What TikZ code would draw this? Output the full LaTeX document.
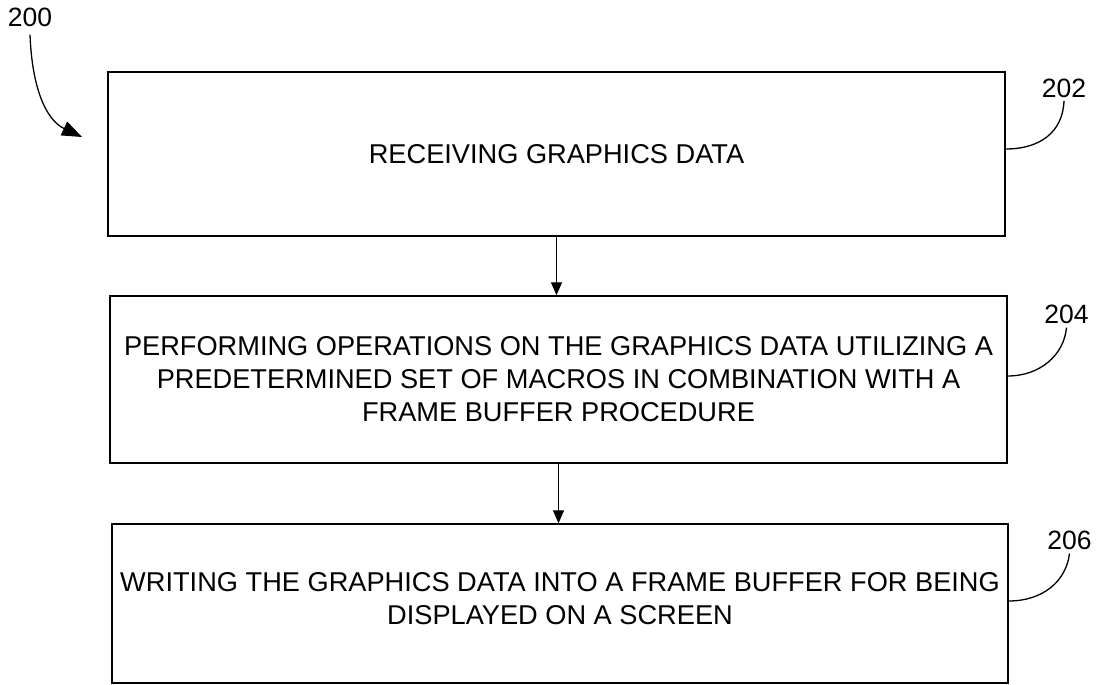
\documentclass[tikz,border=0pt]{standalone}
\usepackage{fontspec}
\setmainfont{Liberation Sans}
\usetikzlibrary{arrows.meta,calc}
\begin{document}
\begin{tikzpicture}[x=1pt,y=-1pt,
  stepbox/.style={draw=black,line width=1.4pt,rectangle,inner sep=0pt,align=center,
    font=\fontsize{27.2}{33}\selectfont},
  reflabel/.style={inner sep=0pt,font=\fontsize{26.5}{30}\selectfont},
  flow/.style={line width=1.2pt,-{Triangle[length=13pt,width=11pt]}},
  lead/.style={line width=1.3pt}]
\useasboundingbox (0,0) rectangle (1096,685);
\node[stepbox,minimum width=897pt,minimum height=164pt] (b1) at (556.5,154) {RECEIVING GRAPHICS DATA};
\node[stepbox,minimum width=897pt,minimum height=167pt] (b2) at (558.5,379.5)
  {PERFORMING OPERATIONS ON THE GRAPHICS DATA UTILIZING A\\PREDETERMINED SET OF MACROS IN COMBINATION WITH A\\FRAME BUFFER PROCEDURE};
\node[stepbox,minimum width=896pt,minimum height=159pt] (b3) at (560,603.5) {};
\node[align=center,inner sep=0pt,font=\fontsize{27.2}{33}\selectfont] (b3t) at (560,599)
  {WRITING THE GRAPHICS DATA INTO A FRAME BUFFER FOR BEING\\DISPLAYED ON A SCREEN};
\draw[flow] (b1.south) -- (b1.south |- b2.north);
\draw[flow] (b2.south) -- (b2.south |- b3.north);
\node[reflabel] (l200) at (30,17) {200};
\node[reflabel] (l202) at (1064,88) {202};
\node[reflabel] (l204) at (1066.5,314) {204};
\node[reflabel] (l206) at (1069.5,540) {206};
\coordinate (t200) at (82,137);
\draw[line width=1.3pt,-{Triangle[length=20pt,width=15pt]}] ([yshift=-8pt]l200.south) .. controls (32,88) and (46,120) .. (t200);
\draw[lead] ([yshift=-3pt]l202.south) .. controls (1063,132) and (1040,149) .. ([yshift=5pt]b1.east);
\draw[lead] ([yshift=-4pt]l204.south) .. controls (1064,355) and (1040,376) .. ([yshift=3.5pt]b2.east);
\draw[lead] ([yshift=-4pt]l206.south) .. controls (1066,582) and (1042,601) .. ([yshift=2.5pt]b3.east);
\end{tikzpicture}
\end{document}
